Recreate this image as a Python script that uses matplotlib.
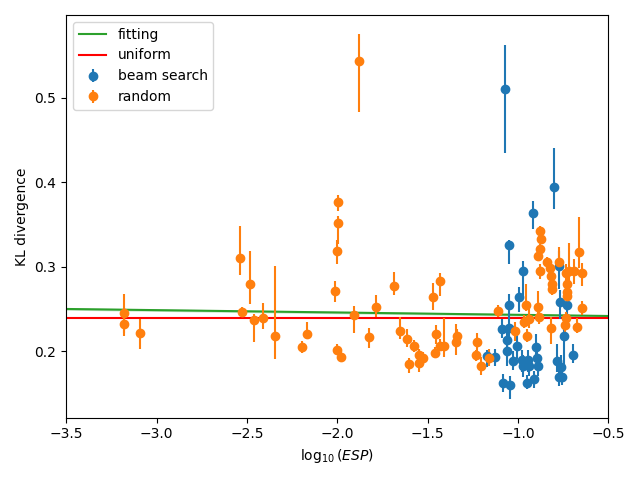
import matplotlib
matplotlib.use("Agg")
import matplotlib.pyplot as plt
import numpy as np

# beam search: log10(ESP), KL divergence, lower / upper error
beam_x = [-1.070, -0.799, -0.915, -1.048, -0.970, -0.993, -1.048, -0.771, -0.766, -0.727,
          -1.087, -1.048, -1.059, -1.059, -1.004, -1.170, -1.126, -0.976, -1.026, -0.943,
          -0.893, -0.899, -0.937, -0.887, -0.970, -0.782, -0.760, -0.744, -0.694, -0.771,
          -0.755, -1.081, -1.042, -0.948, -0.910]
beam_y = [0.510, 0.394, 0.363, 0.326, 0.295, 0.264, 0.255, 0.301, 0.258, 0.255,
          0.226, 0.227, 0.213, 0.200, 0.206, 0.194, 0.193, 0.190, 0.189, 0.190,
          0.192, 0.205, 0.182, 0.182, 0.182, 0.188, 0.181, 0.218, 0.196, 0.170,
          0.170, 0.162, 0.160, 0.163, 0.167]
beam_lo = [0.075, 0.026, 0.019, 0.023, 0.033, 0.017, 0.017, 0.027, 0.020, 0.023,
           0.010, 0.013, 0.017, 0.018, 0.015, 0.013, 0.010, 0.014, 0.011, 0.014,
           0.011, 0.014, 0.011, 0.011, 0.013, 0.012, 0.014, 0.037, 0.010, 0.011,
           0.010, 0.010, 0.017, 0.008, 0.010]
beam_hi = [0.052, 0.046, 0.015, 0.005, 0.012, 0.012, 0.013, 0.018, 0.015, 0.013,
           0.012, 0.013, 0.013, 0.014, 0.017, 0.008, 0.010, 0.012, 0.011, 0.012,
           0.011, 0.015, 0.011, 0.011, 0.014, 0.020, 0.015, 0.010, 0.012, 0.011,
           0.011, 0.011, 0.011, 0.009, 0.010]

# random
rand_x = [-3.179, -3.179, -3.090, -2.537, -2.482, -2.526, -2.459, -2.410, -2.343, -2.194,
          -2.166, -1.994, -1.994, -2.000, -2.011, -2.000, -1.978, -1.878, -1.906, -1.823,
          -1.784, -1.685, -1.651, -1.613, -1.602, -1.574, -1.546, -1.524, -1.546, -1.469,
          -1.430, -1.452, -1.458, -1.430, -1.408, -1.341, -1.336,
          -1.225, -1.231, -1.203, -1.159, -1.109, -1.015, -0.954, -0.948, -0.965, -0.937,
          -0.887, -0.882, -0.876, -0.871, -0.876, -0.887, -0.876, -0.838, -0.821, -0.816,
          -0.810, -0.810, -0.771, -0.716, -0.688, -0.644, -0.733, -0.727, -0.727, -0.727,
          -0.661, -0.644, -0.733, -0.738, -0.816, -0.672]
rand_y = [0.245, 0.232, 0.221, 0.310, 0.280, 0.246, 0.237, 0.239, 0.218, 0.205,
          0.220, 0.377, 0.352, 0.318, 0.271, 0.202, 0.193, 0.543, 0.243, 0.217,
          0.252, 0.277, 0.224, 0.215, 0.185, 0.206, 0.196, 0.192, 0.186, 0.264,
          0.283, 0.220, 0.198, 0.206, 0.206, 0.211, 0.218,
          0.211, 0.195, 0.183, 0.192, 0.248, 0.224, 0.255, 0.218, 0.235, 0.238,
          0.252, 0.240, 0.342, 0.333, 0.321, 0.313, 0.295, 0.306, 0.298, 0.289,
          0.280, 0.274, 0.305, 0.295, 0.295, 0.292, 0.293, 0.280, 0.270, 0.265,
          0.317, 0.251, 0.239, 0.231, 0.227, 0.229]
rand_lo = [0.023, 0.014, 0.018, 0.020, 0.024, 0.006, 0.026, 0.013, 0.027, 0.007,
           0.006, 0.011, 0.025, 0.015, 0.013, 0.005, 0.005, 0.060, 0.021, 0.013,
           0.011, 0.011, 0.010, 0.010, 0.011, 0.007, 0.006, 0.006, 0.010, 0.015,
           0.018, 0.012, 0.005, 0.006, 0.013, 0.015, 0.010,
           0.012, 0.007, 0.011, 0.010, 0.007, 0.012, 0.007, 0.007, 0.008, 0.010,
           0.008, 0.008, 0.006, 0.006, 0.007, 0.006, 0.010, 0.006, 0.007, 0.006,
           0.008, 0.007, 0.010, 0.012, 0.015, 0.015, 0.010, 0.008, 0.008, 0.008,
           0.019, 0.008, 0.008, 0.011, 0.019, 0.007]
rand_hi = [0.023, 0.012, 0.017, 0.038, 0.038, 0.006, 0.007, 0.018, 0.083, 0.007,
           0.015, 0.008, 0.008, 0.013, 0.012, 0.007, 0.007, 0.032, 0.011, 0.010,
           0.014, 0.017, 0.016, 0.011, 0.007, 0.007, 0.007, 0.007, 0.006, 0.017,
           0.009, 0.011, 0.007, 0.008, 0.033, 0.021, 0.008,
           0.011, 0.007, 0.010, 0.011, 0.007, 0.011, 0.025, 0.008, 0.008, 0.012,
           0.019, 0.007, 0.006, 0.006, 0.006, 0.006, 0.008, 0.006, 0.006, 0.006,
           0.006, 0.007, 0.018, 0.033, 0.014, 0.012, 0.010, 0.008, 0.008, 0.008,
           0.042, 0.008, 0.008, 0.010, 0.013, 0.010]

# fitted line and uniform baseline
fit_x = [-3.5, -0.5]
fit_y = [0.2500, 0.2417]
fit_band = 0.0015
uniform_kl = 0.2393

fig, ax = plt.subplots(figsize=(6.4, 4.8), dpi=100)

ax.plot(fit_x, fit_y, color='C2', label='fitting')
ax.fill_between(fit_x, np.array(fit_y) - fit_band, np.array(fit_y) + fit_band,
                color='C2', alpha=0.25, linewidth=0)
ax.plot(fit_x, [uniform_kl, uniform_kl], color='red', label='uniform')

ax.errorbar(beam_x, beam_y, yerr=[beam_lo, beam_hi], fmt='o', color='C0', label='beam search')
ax.errorbar(rand_x, rand_y, yerr=[rand_lo, rand_hi], fmt='o', color='C1', label='random')

ax.set_xlim(-3.5, -0.5)
ax.set_ylim(0.1214, 0.5976)
ax.set_xlabel(r'$\log_{10}(ESP)$')
ax.set_ylabel('KL divergence')
ax.legend(loc='upper left')

fig.tight_layout()
fig.savefig('out.png')
